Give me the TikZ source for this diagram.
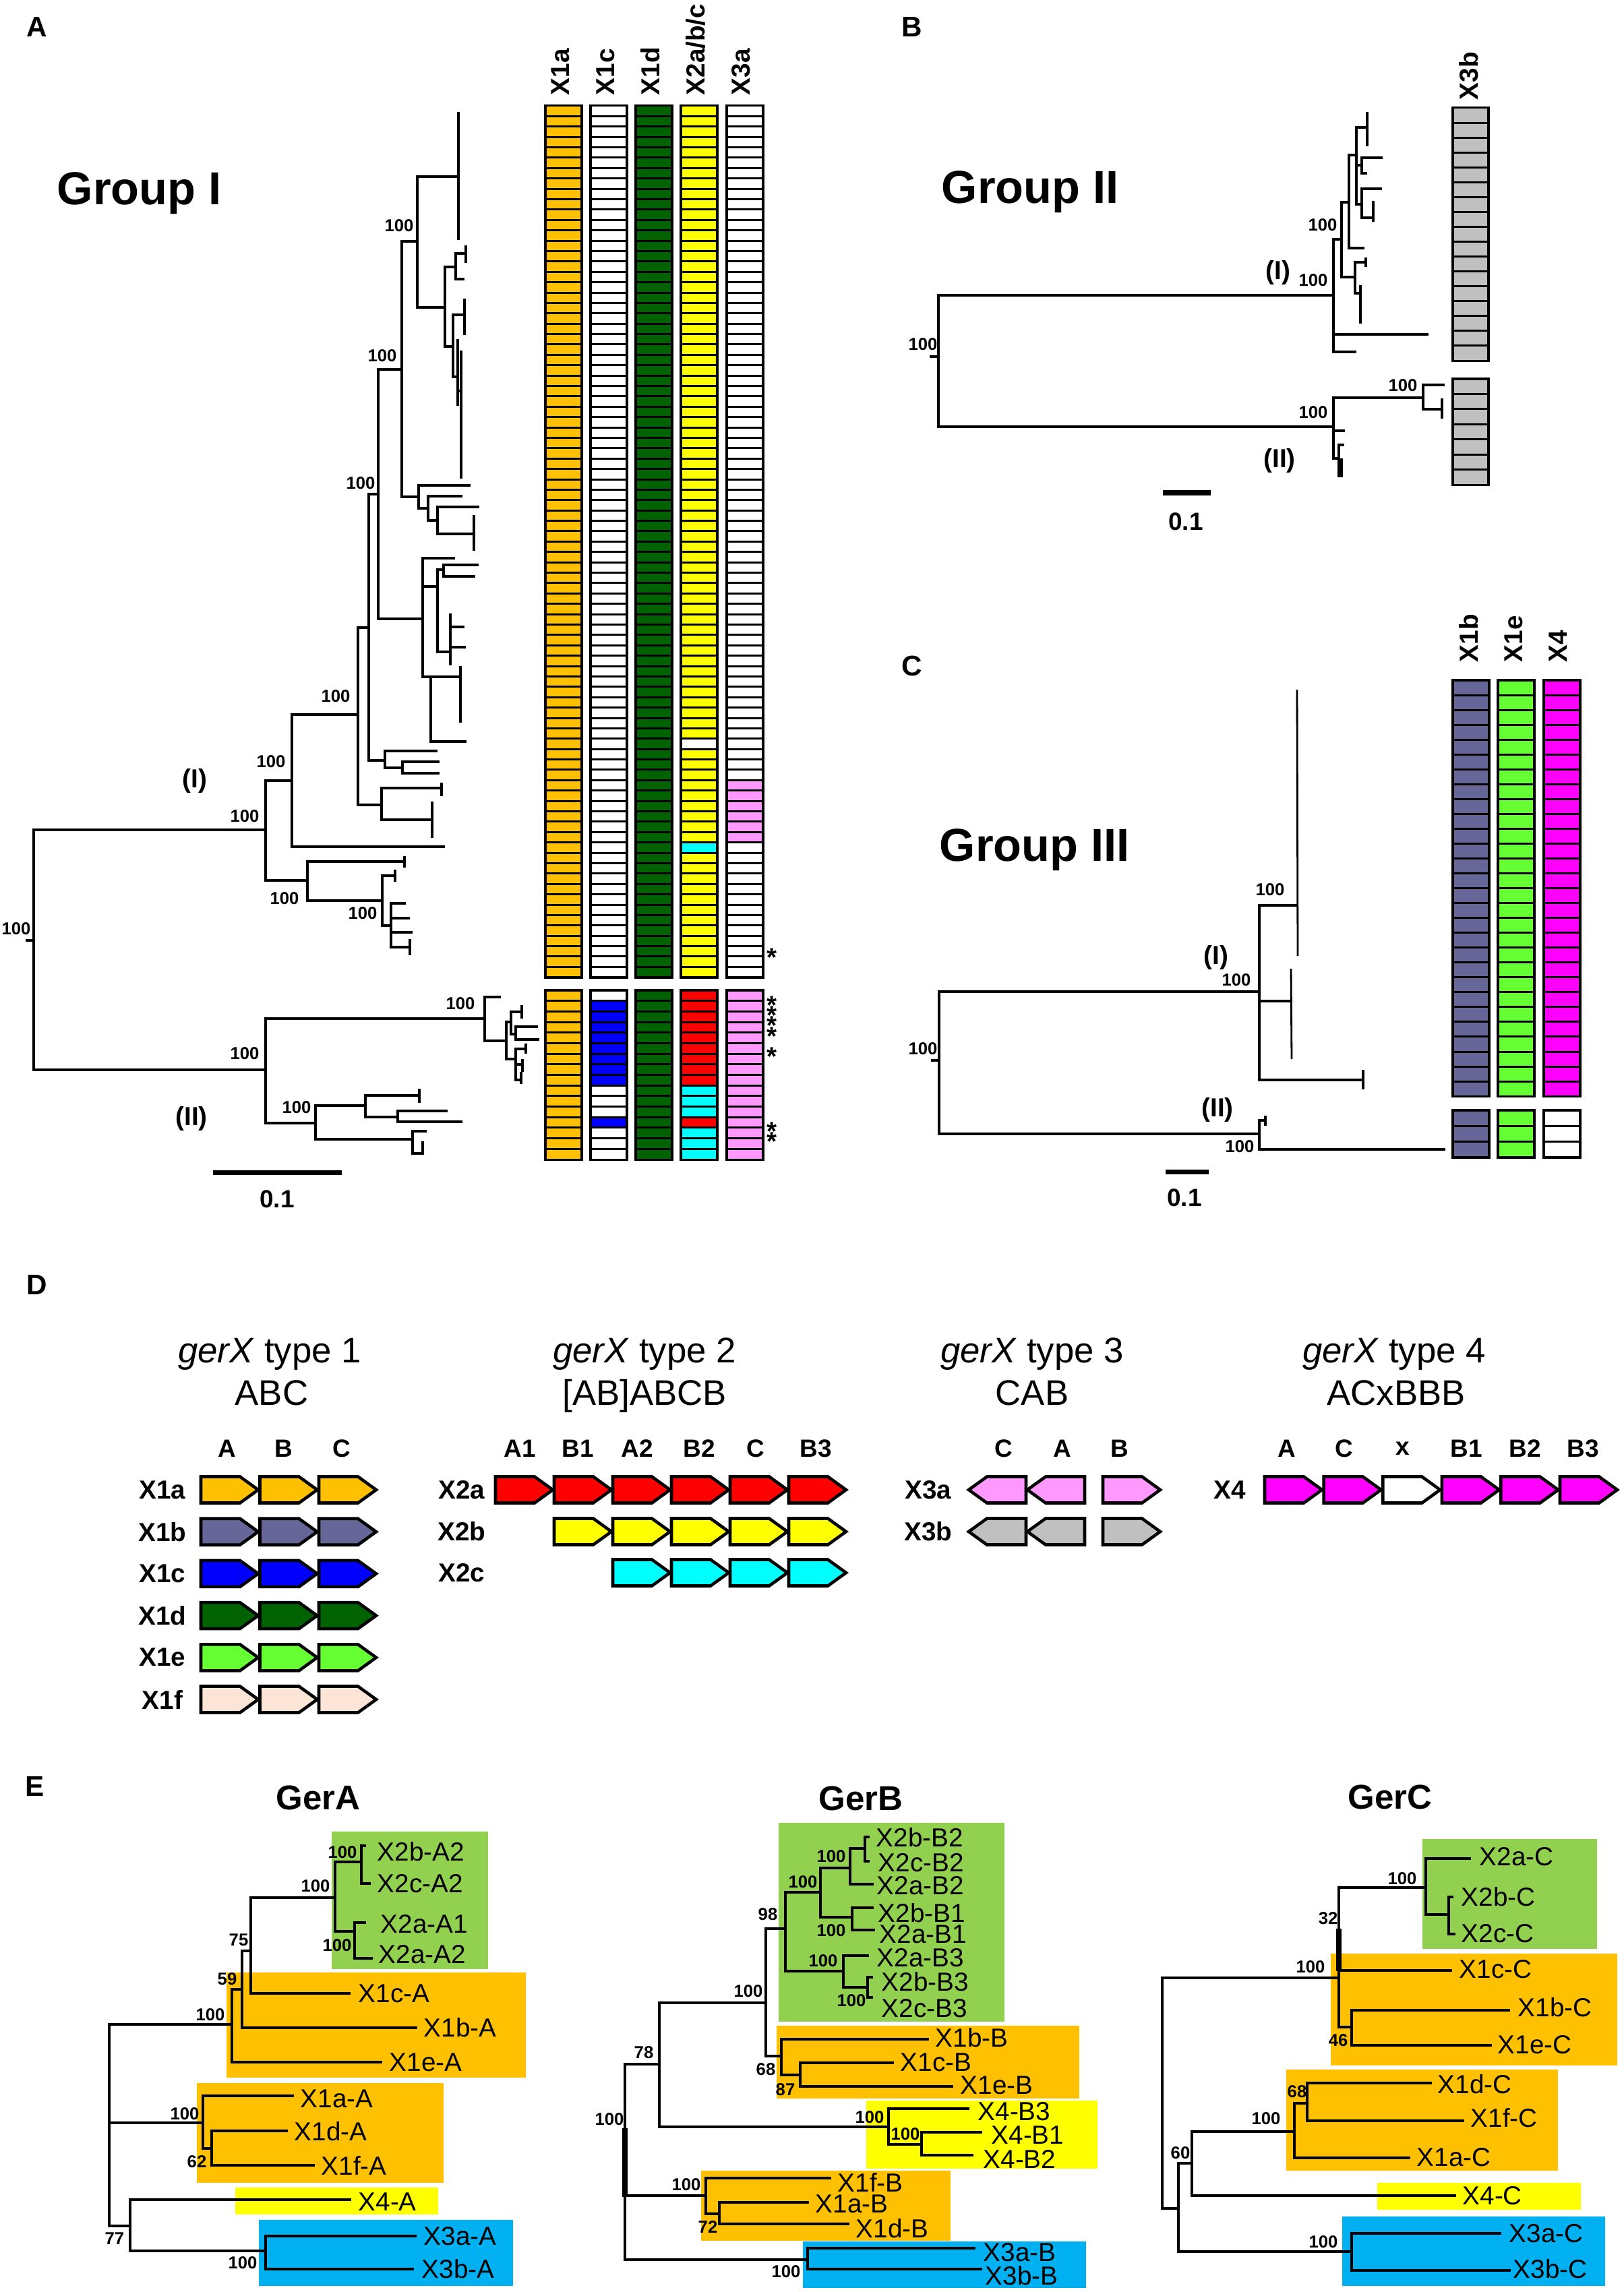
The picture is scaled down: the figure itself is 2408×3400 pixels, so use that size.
\documentclass[tikz,border=0pt]{standalone}
\usepackage{fontspec}
\setmainfont{Liberation Sans}
\newcommand\setfs[1]{\fontsize{#1pt}{#1pt}\selectfont}
\newcommand\astfont{\bfseries\fontsize{11pt}{4.35pt}\selectfont\lineskiplimit=-100pt\relax\lineskip=0pt\relax}
\newcommand\tcl[5]{\draw[trl] (#4,#2) -- (#1,#2) -- (#1,#3) -- (#5,#3);}
\newcommand\tbr[3]{\draw[trl] (#1,#3) -- (#2,#3);}
\newcommand\tvb[3]{\draw[trl] (#1,#2) -- (#1,#3);}
\newcommand\colblock[6]{%
  \fill[black] ({#1},{#2-2}) rectangle ({#1+#6},{#2+#3*#4+2});
  \foreach \ii in {1,...,#3}{\fill[#5] ({#1+4},{#2+(\ii-1)*#4+1.5}) rectangle ({#1+#6-4},{#2+\ii*#4-1.5});}%
}
\newcommand\cellc[6]{\fill[#5] ({#1+4},{#2+#3*#4+1.5}) rectangle ({#1+#6-4},{#2+(#3+1)*#4-1.5});}
\newcommand\garr[3]{\draw[garrow, fill=#3] ({#1},{#2-19.5}) -- ({#1+58},{#2-19.5}) -- ({#1+85},{#2}) -- ({#1+58},{#2+19.5}) -- ({#1},{#2+19.5}) -- cycle;}
\newcommand\garl[3]{\draw[garrow, fill=#3] ({#1+85},{#2-19.5}) -- ({#1+27},{#2-19.5}) -- ({#1},{#2}) -- ({#1+27},{#2+19.5}) -- ({#1+85},{#2+19.5}) -- cycle;}
\definecolor{cOr}{RGB}{255,192,0}
\definecolor{cDg}{RGB}{0,98,0}
\definecolor{cYe}{RGB}{255,255,0}
\definecolor{cCy}{RGB}{0,255,255}
\definecolor{cRe}{RGB}{255,0,0}
\definecolor{cBl}{RGB}{0,0,255}
\definecolor{cPk}{RGB}{255,153,255}
\definecolor{cSl}{RGB}{102,102,153}
\definecolor{cLg}{RGB}{102,255,51}
\definecolor{cMg}{RGB}{255,0,255}
\definecolor{cGy}{RGB}{192,192,192}
\definecolor{cPe}{RGB}{252,228,214}
\definecolor{eGr}{RGB}{146,208,80}
\definecolor{eBl}{RGB}{0,176,240}
\tikzset{
 trl/.style={line width=1.15pt, line cap=rect},
 boot/.style={inner sep=0pt, font=\bfseries\setfs{7.3}},
 grp/.style={inner sep=0pt, font=\bfseries\setfs{19.5}, anchor=base west},
 plab/.style={inner sep=0pt, font=\bfseries\setfs{12}},
 clab/.style={inner sep=0pt, font=\bfseries\setfs{11}, rotate=90, anchor=west},
 subl/.style={inner sep=0pt, font=\bfseries\setfs{11}},
 scbar/.style={line width=2pt},
 scl/.style={inner sep=0pt, font=\bfseries\setfs{10.5}},
 astk/.style={inner sep=0pt, align=center, anchor=north, font=\astfont},
 garrow/.style={line width=1.3pt, line join=miter},
 gtitle/.style={inner sep=0pt, font=\setfs{15}, anchor=base},
 glab/.style={inner sep=0pt, font=\bfseries\setfs{10.5}},
 rlab/.style={inner sep=0pt, font=\bfseries\setfs{11}},
 etitle/.style={inner sep=0pt, font=\bfseries\setfs{14.5}},
 elab/.style={inner sep=0pt, font=\setfs{11}, anchor=west},
}
\begin{document}
\begin{tikzpicture}[x=0.01cm,y=-0.01cm]
\useasboundingbox (0,0) rectangle (2408,3400);
\fill[white] (0,0) rectangle (2408,3400);

% ---------------- panel labels
\node[plab] (lA) at (55,40) {A};
\node[plab] (lB) at (1353,40) {B};
\node[plab] (lC) at (1353,988) {C};
\node[plab] (lD) at (55,1906) {D};
\node[plab] (lE) at (52,2650) {E};

\node[grp] (g1) at (84,304) {Group I};
\node[grp] (g2) at (1396,301) {Group II};
\node[grp] (g3) at (1393,1277) {Group III};

% ---------------- panel A tree
\tbr{40}{50}{1395}
\tcl{50}{1231}{1587}{394}{394}
\tcl{394}{1158}{1306}{433}{456}
\tcl{433}{1060}{1256}{531}{658}
\tcl{531}{931}{1194}{547}{566}
\tcl{547}{733}{1128}{561}{571}
\tcl{561}{548}{918}{596}{627}
\tcl{596}{358}{737}{619}{621}
\tcl{619}{262}{456}{680}{660} \tvb{680}{168}{354}
\tcl{660}{396}{514}{676}{672}
\tcl{676}{376}{414}{691}{687} \tvb{691}{366}{388}
\tcl{672}{467}{559}{689}{679} \tvb{689}{445}{495} \tvb{679}{505}{600} \tvb{684}{522}{708} \tbr{679}{684}{580}
\tcl{621}{720}{754}{696}{635}
\tcl{635}{736}{772}{684}{649}
\tcl{649}{752}{792}{709}{703} \tvb{703}{766}{815}
\tcl{627}{828}{1004}{673}{639} \tbr{627}{649}{870}
\tcl{649}{845}{967}{658}{668}
\tcl{658}{838}{855}{708}{703}
\tvb{668}{912}{985} \tbr{668}{687}{930} \tbr{668}{689}{960}
\tcl{639}{1004}{1100}{683}{690} \tvb{683}{990}{1070}
\tcl{571}{1114}{1139}{647}{597}
\tcl{597}{1130}{1147}{650}{650}
\tcl{566}{1169}{1216}{655}{641} \tvb{655}{1163}{1179} \tvb{641}{1191}{1241}
\tcl{456}{1278}{1336}{600}{567} \tvb{600}{1272}{1285}
\tcl{567}{1299}{1373}{586}{580} \tvb{586}{1292}{1306}
\tcl{580}{1340}{1405}{600}{608} \tbr{580}{606}{1362} \tbr{580}{610}{1383} \tvb{608}{1395}{1415}
% clade II
\tcl{394}{1511}{1666}{719}{468}
\tcl{719}{1479}{1544}{741}{751}
\tcl{751}{1516}{1571}{758}{765}
\tcl{758}{1501}{1534}{774}{765} \tvb{774}{1493}{1509}
\tcl{765}{1523}{1542}{796}{798}
\tcl{765}{1556}{1602}{780}{773} \tvb{780}{1550}{1561} \tbr{765}{775}{1579} \tvb{775}{1573}{1588} \tvb{773}{1592}{1606}
\tcl{468}{1640}{1690}{542}{612}
\tcl{542}{1625}{1657}{622}{590} \tvb{622}{1617}{1634}
\tcl{590}{1648}{1664}{662}{684}
\tcl{612}{1678}{1711}{631}{627} \tvb{627}{1695}{1711}

\foreach \x/\y [count=\n] in {592/335,567/528,535/717,498/1033,402/1130,363/1211,422/1333,538/1355,24/1378,683/1489,363/1563,440/1643}
  \node[boot] (bA\n) at (\x,\y) {100};
\node[subl] (aI) at (289,1158) {(I)};
\node[subl] (aII) at (284,1659) {(II)};
\coordinate (sa1) at (316,1739); \coordinate (sa2) at (507,1739);
\draw[scbar] (sa1) -- (sa2);
\node[scl] (sA) at (411,1779) {0.1};

% ---------------- panel A columns
\colblock{807}{157}{84}{15.39}{cOr}{58}
\colblock{874}{157}{84}{15.39}{white}{58}
\colblock{941}{157}{84}{15.39}{cDg}{58}
\colblock{1008}{157}{84}{15.39}{cYe}{58}
\cellc{1008}{157}{61}{15.39}{white}{58}
\cellc{1008}{157}{71}{15.39}{cCy}{58}
\colblock{1076}{157}{84}{15.39}{white}{58}
\foreach \r in {65,...,70}{\cellc{1076}{157}{\r}{15.39}{cPk}{58}}
\colblock{807}{1469}{16}{15.69}{cOr}{58}
\colblock{874}{1469}{16}{15.69}{white}{58}
\foreach \r in {1,...,8}{\cellc{874}{1469}{\r}{15.69}{cBl}{58}}
\cellc{874}{1469}{12}{15.69}{cBl}{58}
\colblock{941}{1469}{16}{15.69}{cDg}{58}
\colblock{1008}{1469}{16}{15.69}{cCy}{58}
\foreach \r in {0,...,8}{\cellc{1008}{1469}{\r}{15.69}{cRe}{58}}
\cellc{1008}{1469}{12}{15.69}{cRe}{58}
\colblock{1076}{1469}{16}{15.69}{cPk}{58}
\node[clab] (hA1) at (831,142) {X1a};
\node[clab] (hA2) at (898,142) {X1c};
\node[clab] (hA3) at (965,142) {X1d};
\node[clab] (hA4) at (1032,142) {X2a/b/c};
\node[clab] (hA5) at (1099,142) {X3a};
\node[astk] (st1) at (1145,1406) {*};
\node[astk] (st2) at (1145,1477) {*\\*\\*\\*};
\node[astk] (st3) at (1145,1553) {*};
\node[astk] (st4) at (1145,1664) {*\\*};

% ---------------- panel B
\tbr{1381}{1392}{529}
\tcl{1392}{438}{633}{1978}{1978}
\tcl{1978}{355}{522}{1990}{2010} \tbr{1978}{2117}{496}
\tcl{1990}{300}{411}{2001}{2010}
\tcl{2001}{230}{368}{2012}{2022}
\tcl{2012}{189}{303}{2028}{2020} \tvb{2028}{168}{215}
\tbr{2012}{2020}{245}
\tcl{2020}{234}{257}{2049}{2026}
\tcl{2020}{280}{323}{2048}{2037} \tvb{2037}{300}{327}
\tcl{2010}{389}{435}{2026}{2018} \tvb{2026}{384}{394} \tvb{2018}{425}{478}
\tcl{1978}{590}{680}{2111}{1986} \tbr{1978}{1993}{639}
\tcl{2111}{571}{607}{2141}{2139} \tvb{2139}{593}{619}
\tcl{1986}{660}{706}{1992}{1990} \tvb{1990}{682}{706}
\node[boot] (bB1) at (1369,511) {100};
\node[boot] (bB2) at (1948,416) {100};
\node[boot] (bB3) at (1962,334) {100};
\node[boot] (bB4) at (1948,612) {100};
\node[boot] (bB5) at (2081,572) {100};
\node[subl] (bI) at (1896,404) {(I)};
\node[subl] (bII) at (1898,683) {(II)};
\coordinate (sb1) at (1725,731); \coordinate (sb2) at (1796,731);
\draw[scbar] (sb1) -- (sb2);
\node[scl] (sB) at (1759,774) {0.1};
\colblock{2153}{160}{17}{22.06}{cGy}{57}
\colblock{2153}{562}{7}{22.43}{cGy}{57}
\node[clab] (hB) at (2179,149) {X3b};

% ---------------- panel C
\tbr{1383}{1393}{1573}
\tcl{1393}{1471}{1682}{1868}{1868}
\tcl{1868}{1343}{1602}{1924}{2022} \tbr{1868}{1915}{1485}
\draw[line width=0.8pt] (1924,1023) -- (1925,1418);
\draw[line width=0.8pt] (1915,1437) -- (1916,1571);
\tvb{2022}{1589}{1614}
\tcl{1868}{1662}{1705}{1877}{2142} \tvb{1877}{1657}{1668}
\node[boot] (bC1) at (1369,1556) {100};
\node[boot] (bC2) at (1834,1454) {100};
\node[boot] (bC3) at (1884,1320) {100};
\node[boot] (bC4) at (1839,1701) {100};
\node[subl] (cI) at (1804,1420) {(I)};
\node[subl] (cII) at (1806,1646) {(II)};
\coordinate (sc1) at (1729,1738); \coordinate (sc2) at (1793,1738);
\draw[scbar] (sc1) -- (sc2);
\node[scl] (sC) at (1757,1777) {0.1};
\colblock{2153}{1009}{28}{22.04}{cSl}{58}
\colblock{2220}{1009}{28}{22.04}{cLg}{58}
\colblock{2288}{1009}{28}{22.04}{cMg}{58}
\colblock{2153}{1647}{3}{23.3}{cSl}{58}
\colblock{2220}{1647}{3}{23.3}{cLg}{58}
\colblock{2288}{1647}{3}{23.3}{white}{58}
\node[clab] (hC1) at (2179,983) {X1b};
\node[clab] (hC2) at (2245,983) {X1e};
\node[clab] (hC3) at (2311,983) {X4};

% ---------------- panel D
\node[gtitle] (t1a) at (400,2021) {\textit{gerX} type 1};
\node[gtitle] (t1b) at (403,2084) {ABC};
\node[gtitle] (t2a) at (956,2021) {\textit{gerX} type 2};
\node[gtitle] (t2b) at (956,2084) {[AB]ABCB};
\node[gtitle] (t3a) at (1531,2021) {\textit{gerX} type 3};
\node[gtitle] (t3b) at (1531,2084) {CAB};
\node[gtitle] (t4a) at (2068,2021) {\textit{gerX} type 4};
\node[gtitle] (t4b) at (2071,2084) {ACxBBB};
\foreach \t/\x in {A/337,B/421,C/507,A1/771,B1/857,A2/945,B2/1037,C/1121,B3/1210,C/1489,A/1576,B/1661,A/1909,C/1994,x/2081,B1/2175,B2/2262,B3/2348}
  \node[glab] at (\x,2149) {\t};
\foreach \t/\c [count=\n] in {X1a/cOr,X1b/cSl,X1c/cBl,X1d/cDg,X1e/cLg,X1f/cPe}{
  \pgfmathsetmacro\yy{2210+(\n-1)*62.2}
  \node[rlab] (r\t) at (241,\yy) {\t};
  \foreach \k in {0,1,2}{\garr{298+\k*87.5}{\yy}{\c}}
}
\node[rlab] (rX2a) at (685,2210) {X2a};
\node[rlab] (rX2b) at (685,2272) {X2b};
\node[rlab] (rX2c) at (685,2333) {X2c};
\foreach \k in {0,...,5}{\garr{735+\k*87}{2210}{cRe}}
\foreach \k in {1,...,5}{\garr{735+\k*87}{2272}{cYe}}
\foreach \k in {2,...,5}{\garr{735+\k*87}{2333}{cCy}}
\node[rlab] (rX3a) at (1377,2210) {X3a};
\node[rlab] (rX3b) at (1377,2272) {X3b};
\garl{1437}{2210}{cPk} \garl{1524}{2210}{cPk} \garr{1636}{2210}{cPk}
\garl{1437}{2272}{cGy} \garl{1524}{2272}{cGy} \garr{1636}{2272}{cGy}
\node[rlab] (rX4) at (1824,2210) {X4};
\foreach \k/\c in {0/cMg,1/cMg,2/white,3/cMg,4/cMg,5/cMg}{\garr{1876+\k*87.6}{2210}{\c}}

% ---------------- panel E
\node[etitle] (eA) at (472,2667) {GerA};
\node[etitle] (eB) at (1277,2668) {GerB};
\node[etitle] (eC) at (2062,2666) {GerC};
% boxes
\fill[eGr] (492,2717) rectangle (724,2921);
\fill[cOr] (336,2926) rectangle (780,3082);
\fill[cOr] (292,3090) rectangle (658,3238);
\fill[cYe] (349,3245) rectangle (650,3285);
\fill[eBl] (384,3293) rectangle (761,3391);
\fill[eGr] (1155,2704) rectangle (1490,2999);
\fill[cOr] (1152,3005) rectangle (1601,3113);
\fill[cYe] (1285,3116) rectangle (1628,3217);
\fill[cOr] (1040,3220) rectangle (1410,3324);
\fill[eBl] (1191,3325) rectangle (1611,3394);
\fill[eGr] (2110,2728) rectangle (2369,2891);
\fill[cOr] (1974,2898) rectangle (2399,3064);
\fill[cOr] (1908,3070) rectangle (2311,3220);
\fill[cYe] (2043,3238) rectangle (2345,3278);
\fill[eBl] (1991,3288) rectangle (2381,3391);
\begin{scope}[trl/.style={line width=1.35pt, line cap=rect}]
% GerA
\tvb{162}{3003}{3302}
\tbr{162}{344}{3003} \tbr{162}{301}{3149} \tbr{162}{193}{3302}
\tcl{344}{2951}{3059}{359}{565}
\tcl{359}{2894}{3008}{372}{617}
\tcl{372}{2815}{2957}{497}{518}
\tcl{497}{2762}{2865}{536}{526}
\tcl{536}{2738}{2794}{541}{548}
\tcl{526}{2852}{2905}{541}{551}
\tcl{301}{3109}{3187}{434}{314}
\tcl{314}{3161}{3212}{425}{465}
\tcl{193}{3263}{3339}{519}{394}
\tcl{394}{3317}{3366}{616}{612}
% GerB
\tvb{927}{3062}{3352}
\draw[line width=2.4pt] (927,3157) -- (927,3259);
\tbr{927}{978}{3062} \tbr{927}{1047}{3257} \tbr{927}{1198}{3352}
\tcl{978}{2971}{3155}{1136}{1318}
\tcl{1136}{2861}{3050}{1165}{1159}
\tcl{1165}{2807}{2924}{1217}{1251}
\tcl{1217}{2771}{2844}{1261}{1264}
\tcl{1261}{2742}{2795}{1283}{1294}
\tcl{1283}{2725}{2761}{1288}{1288}
\tcl{1264}{2830}{2863}{1294}{1296}
\tcl{1251}{2901}{2948}{1287}{1287}
\tcl{1287}{2933}{2963}{1293}{1293}
\tcl{1159}{3025}{3078}{1376}{1187}
\tcl{1187}{3060}{3095}{1324}{1412}
\tcl{1318}{3128}{3181}{1436}{1367}
\tcl{1367}{3163}{3197}{1455}{1442}
\tcl{1047}{3231}{3284}{1231}{1067}
\tcl{1067}{3267}{3299}{1198}{1258}
\tcl{1198}{3335}{3366}{1445}{1455}
% GerC
\tcl{1724}{2934}{3276}{1986}{1748}
\tvb{1986}{2800}{3007}
\draw[line width=2.4pt] (1986,2861) -- (1986,2924);
\tbr{1986}{2115}{2800} \tbr{1986}{2152}{2923} \tbr{1986}{2005}{3007}
\tcl{2115}{2757}{2840}{2180}{2149}
\tcl{2149}{2814}{2869}{2154}{2157}
\tcl{2005}{2982}{3034}{2238}{2211}
\tcl{1748}{3209}{3340}{1768}{2005}
\tcl{1768}{3162}{3257}{1920}{2158}
\tcl{1920}{3120}{3201}{1939}{2090}
\tcl{1939}{3090}{3146}{2122}{2170}
\tcl{2005}{3313}{3368}{2225}{2239}
\end{scope}
% leaf labels
\foreach \t/\x/\y in {X2b-A2/559/2747,X2c-A2/559/2794,X2a-A1/564/2854,X2a-A2/561/2899,X1c-A/531/2957,X1b-A/628/3008,X1e-A/577/3059,X1a-A/445/3113,X1d-A/436/3162,X1f-A/476/3212,X4-A/531/3266,X3a-A/628/3317,X3b-A/625/3366}
  \node[elab] at (\x,\y) {\t};
\foreach \t/\x/\y in {X2b-B2/1299/2726,X2c-B2/1302/2763,X2a-B2/1300/2797,X2b-B1/1302/2838,X2a-B1/1304/2869,X2a-B3/1300/2904,X2b-B3/1307/2940,X2c-B3/1307/2979,X1b-B/1387/3023,X1c-B/1335/3059,X1e-B/1424/3093,X4-B3/1450/3132,X4-B1/1470/3167,X4-B2/1458/3203,X1f-B/1242/3237,X1a-B/1209/3269,X1d-B/1269/3306,X3a-B/1458/3341,X3b-B/1461/3376}
  \node[elab] at (\x,\y) {\t};
\foreach \t/\x/\y in {X2a-C/2194/2754,X2b-C/2167/2814,X2c-C/2167/2868,X1c-C/2164/2921,X1b-C/2251/2978,X1e-C/2221/3033,X1d-C/2132/3092,X1f-C/2181/3142,X1a-C/2101/3200,X4-C/2169/3257,X3a-C/2238/3313,X3b-C/2244/3366}
  \node[elab] at (\x,\y) {\t};
% bootstraps E
\foreach \v/\x/\y in {100/468/2798,100/508/2748,100/500/2886,75/354/2878,59/337/2936,100/312/2989,100/274/3136,62/292/3207,77/170/3321,100/360/3357,
  100/904/3144,78/955/3045,100/1110/2954,98/1139/2840,100/1191/2792,100/1233/2754,100/1233/2864,100/1221/2909,100/1263/2968,68/1136/3070,87/1165/3100,100/1290/3141,100/1343/3166,100/1018/3241,72/1050/3303,100/1166/3370,
  100/2080/2787,32/1970/2846,100/1944/2918,46/1985/3027,68/1924/3103,100/1878/3143,60/1751/3194,100/1963/3326}
  \node[boot] at (\x,\y) {\v};
\end{tikzpicture}
\end{document}
